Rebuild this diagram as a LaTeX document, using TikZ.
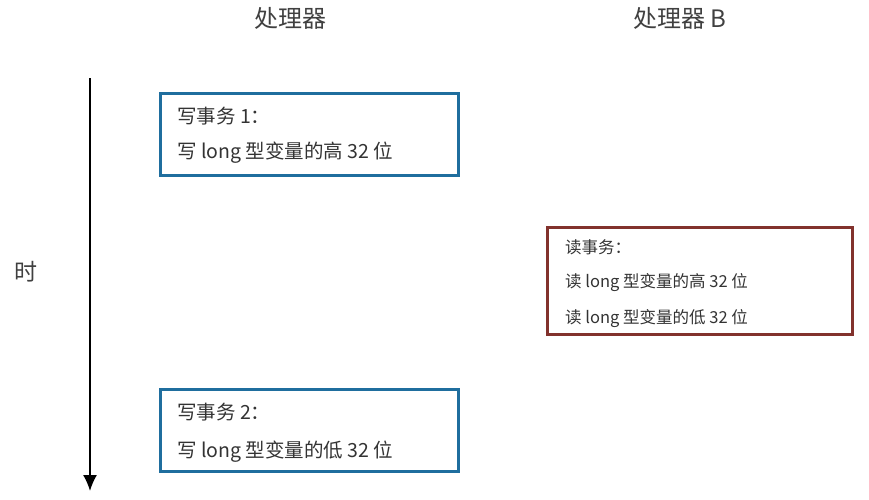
\documentclass[tikz,border=0pt]{standalone}
\usepackage{fontspec}
\setmainfont{Noto Sans CJK SC}
\usepackage{tikz}
\usetikzlibrary{arrows.meta, positioning, calc}
\definecolor{wblue}{RGB}{31,110,158}
\definecolor{rred}{RGB}{130,50,45}

\begin{document}
\begin{tikzpicture}[x=1pt,y=-1pt,
    wbox/.style={draw=wblue,line width=3pt,minimum width=298pt,minimum height=82pt,inner sep=0pt},
    rbox/.style={draw=rred,line width=2.5pt,minimum width=305pt,minimum height=107pt,inner sep=0pt},
    wtxt/.style={anchor=west,inner sep=0pt,font=\fontsize{19.5}{19.5}\selectfont,text=black!80},
    rtxt/.style={anchor=west,inner sep=0pt,font=\fontsize{16.5}{16.5}\selectfont,text=black!80},
    head/.style={inner sep=0pt,font=\fontsize{24}{24}\selectfont,text=black!75}]
    \useasboundingbox (0,0) rectangle (869,499);

    % column titles
    \node[head] (pa) at (290,18) {处理器};
    \node[head] (pb) at (680,18) {处理器 B};

    % time axis
    \coordinate (t0) at (90,78);
    \coordinate (t1) at (90,491);
    \draw[line width=1.6pt,-{Latex[length=16pt,width=14pt]}] (t0) -- (t1);
    \node[head,font=\fontsize{23}{23}\selectfont] (time) at (26,272) {时};

    % processor A
    \node[wbox] (w1) at (309,134) {};
    \node[wtxt] (w1a) at (177,116) {写事务 1：};
    \node[wtxt] (w1b) at (177,153) {写 long 型变量的高 32 位};

    \node[wbox] (w2) at (309,430) {};
    \node[wtxt] (w2a) at (177,412) {写事务 2：};
    \node[wtxt] (w2b) at (177,452) {写 long 型变量的低 32 位};

    % processor B
    \node[rbox] (r1) at (700,281) {};
    \node[rtxt] (r1a) at (565,247) {读事务：};
    \node[rtxt] (r1b) at (565,283) {读 long 型变量的高 32 位};
    \node[rtxt] (r1c) at (565,319) {读 long 型变量的低 32 位};
  \end{tikzpicture}
\end{document}
